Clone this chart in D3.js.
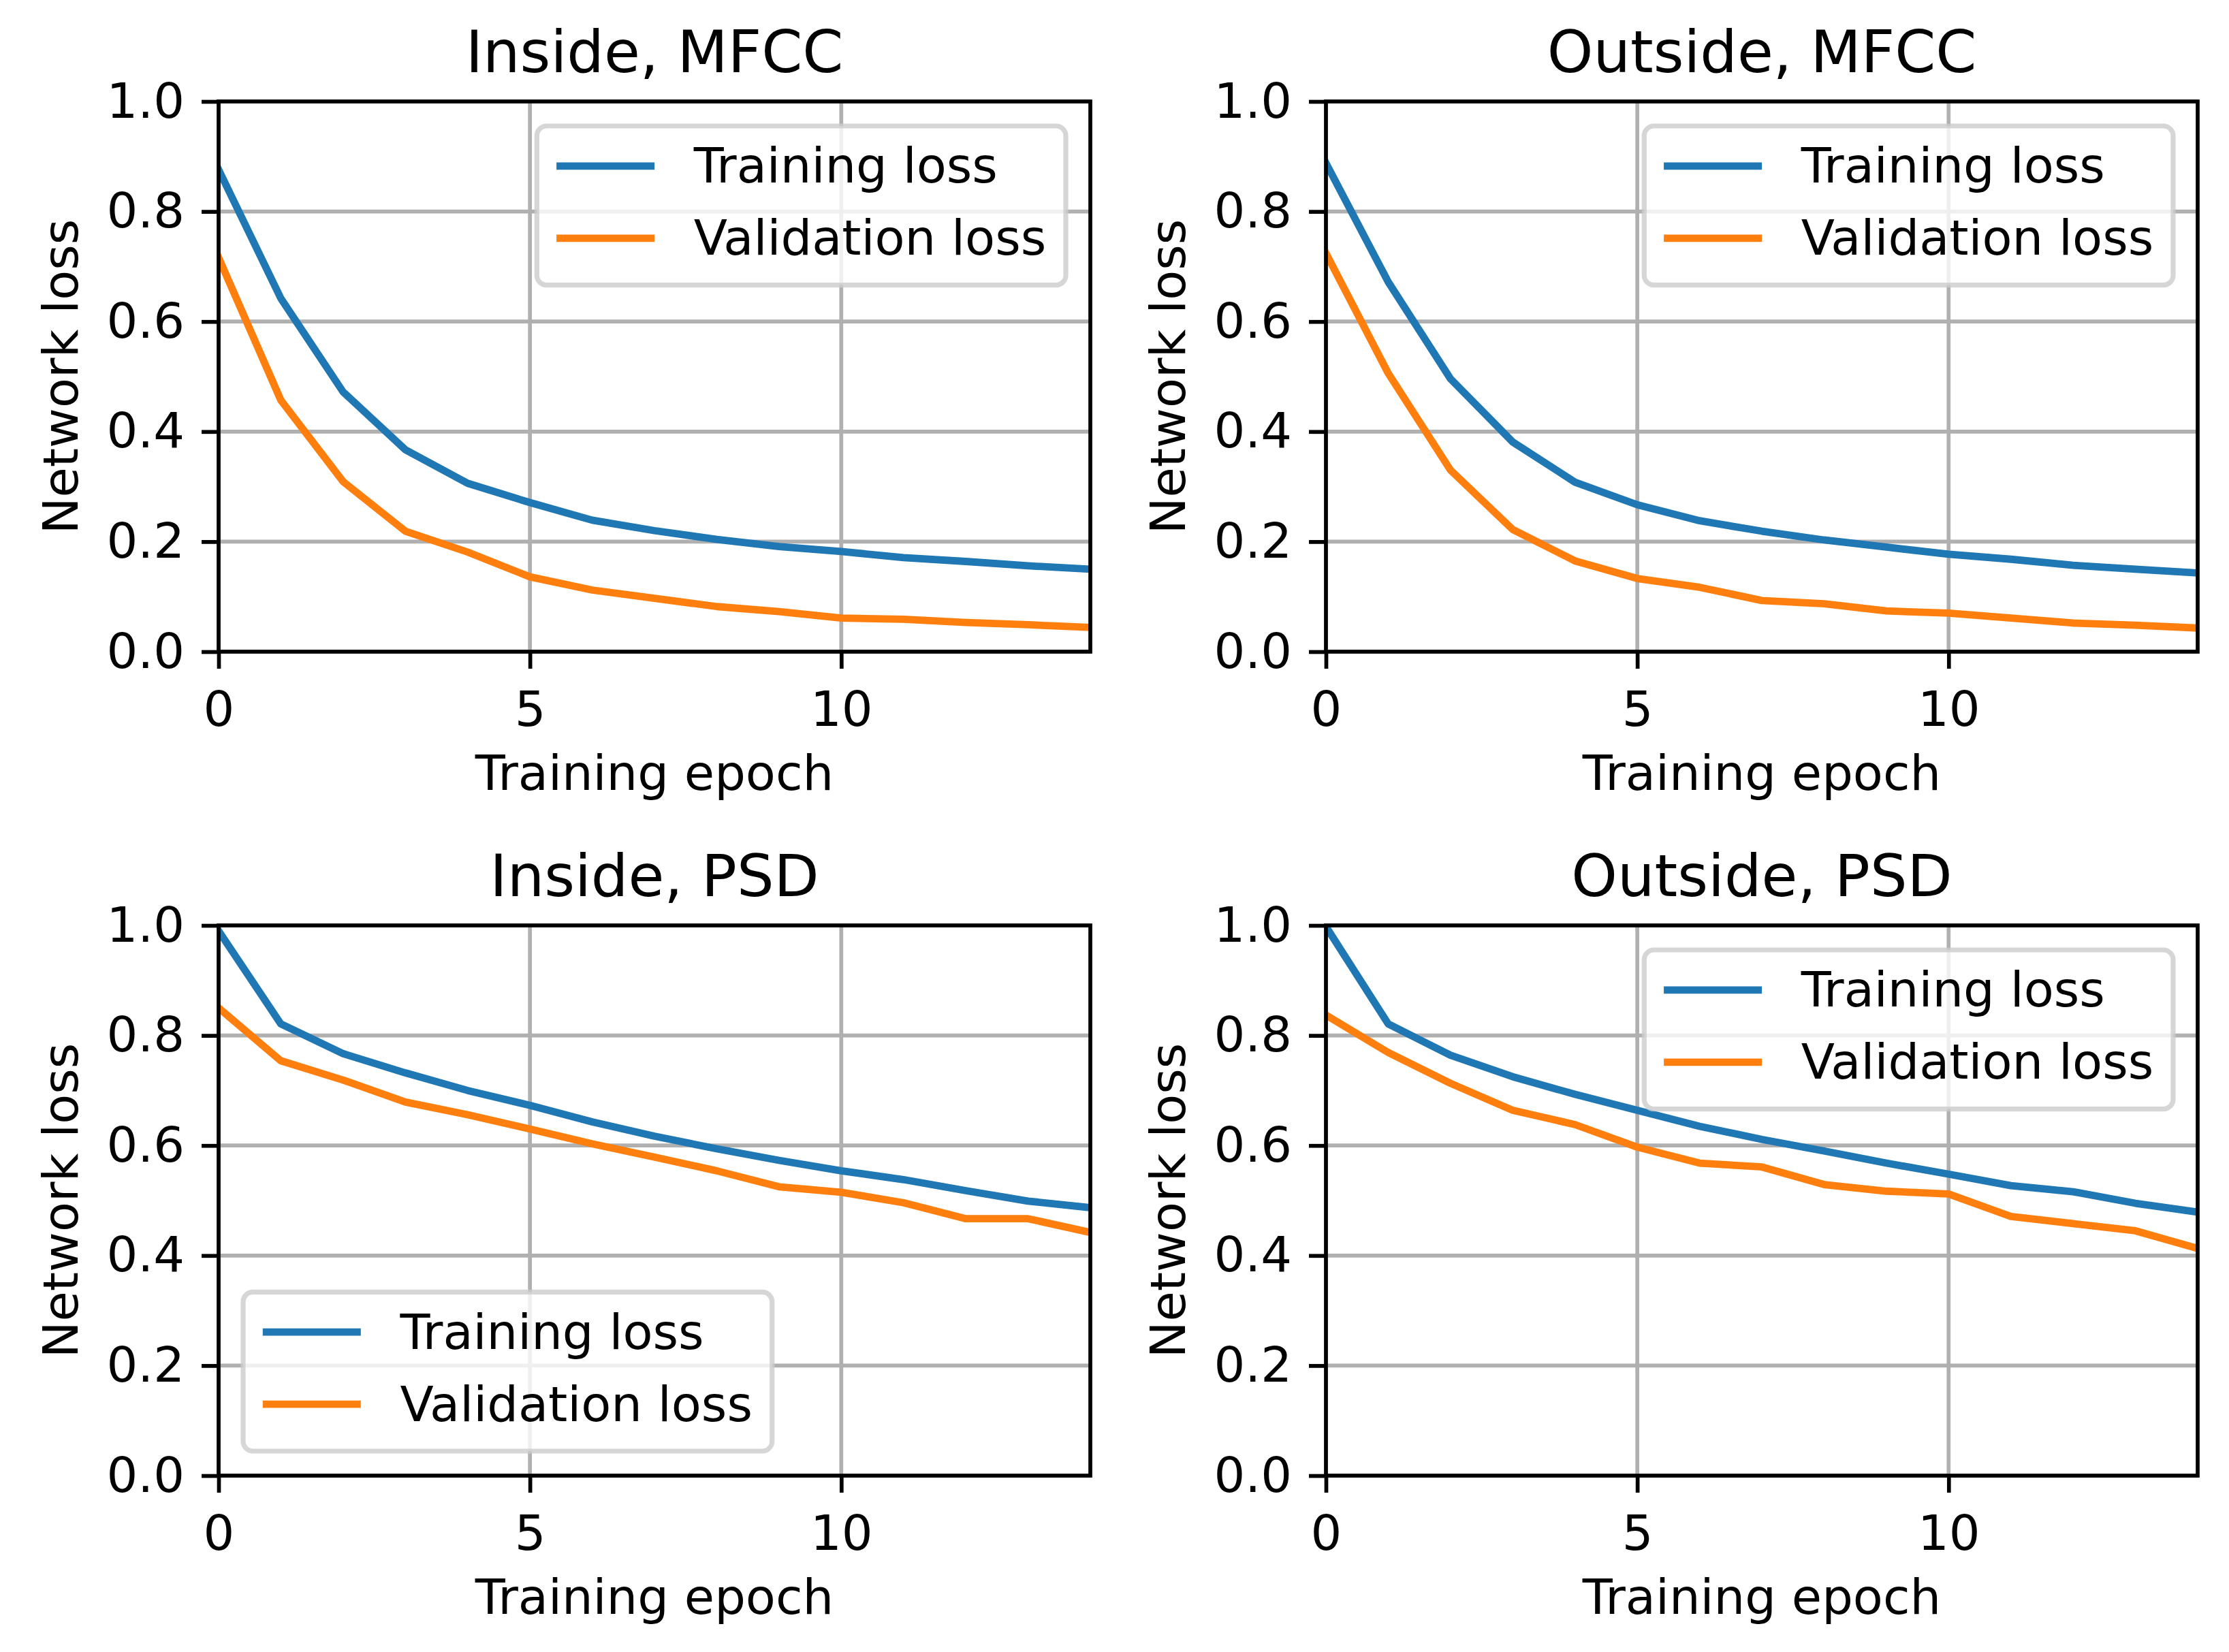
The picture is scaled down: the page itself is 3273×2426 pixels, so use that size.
<!DOCTYPE html>
<html>
<head>
<meta charset="utf-8">
<script src="https://cdn.jsdelivr.net/npm/d3@7"></script>
<style>
  body { margin: 0; background: #fff; }
  svg { display: block; font-family: "DejaVu Sans", sans-serif; }
</style>
</head>
<body>
<div id="chart"></div>
<script>
// epochs on the x axis
const epochs = [0, 1, 2, 3, 4, 5, 6, 7, 8, 9, 10, 11, 12, 13, 14];

// loss curves
const insideMfccTrain = [0.876, 0.642, 0.472, 0.367, 0.306, 0.271, 0.239, 0.220, 0.204, 0.191, 0.182, 0.171, 0.164, 0.156, 0.150];
const insideMfccVal   = [0.716, 0.457, 0.309, 0.219, 0.181, 0.136, 0.112, 0.097, 0.082, 0.073, 0.061, 0.059, 0.053, 0.049, 0.044];
const outsideMfccTrain = [0.888, 0.672, 0.496, 0.381, 0.308, 0.267, 0.238, 0.219, 0.203, 0.190, 0.177, 0.168, 0.157, 0.150, 0.143];
const outsideMfccVal   = [0.724, 0.506, 0.330, 0.222, 0.165, 0.133, 0.117, 0.093, 0.087, 0.074, 0.070, 0.061, 0.052, 0.048, 0.043];
const insidePsdTrain = [0.990, 0.821, 0.767, 0.732, 0.700, 0.673, 0.643, 0.617, 0.594, 0.573, 0.554, 0.538, 0.518, 0.499, 0.487];
const insidePsdVal   = [0.850, 0.754, 0.719, 0.679, 0.656, 0.630, 0.603, 0.579, 0.554, 0.525, 0.515, 0.496, 0.467, 0.467, 0.442];
const outsidePsdTrain = [0.998, 0.821, 0.764, 0.725, 0.693, 0.664, 0.635, 0.611, 0.590, 0.568, 0.548, 0.527, 0.516, 0.495, 0.479];
const outsidePsdVal   = [0.837, 0.769, 0.713, 0.664, 0.638, 0.597, 0.568, 0.561, 0.529, 0.517, 0.512, 0.471, 0.458, 0.445, 0.413];

const xTicks = [0, 5, 10];
const yTicks = [0.0, 0.2, 0.4, 0.6, 0.8, 1.0];
const seriesNames = ['Training loss', 'Validation loss'];
const seriesColors = ['#1f77b4', '#ff7f0e'];

const panels = [
  { title: 'Inside, MFCC', train: insideMfccTrain, val: insideMfccVal, col: 0, row: 0, legend: 'upper right' },
  { title: 'Outside, MFCC', train: outsideMfccTrain, val: outsideMfccVal, col: 1, row: 0, legend: 'upper right' },
  { title: 'Inside, PSD', train: insidePsdTrain, val: insidePsdVal, col: 0, row: 1, legend: 'lower left' },
  { title: 'Outside, PSD', train: outsidePsdTrain, val: outsidePsdVal, col: 1, row: 1, legend: 'upper right' },
];

// layout (pixels, fig rendered at ~517 dpi)
const W = 3273, H = 2426;
const fs = 72;            // 10pt
const titleFs = 86;       // 12pt
const axW = 1280, axH = 808;
const colX = [321, 1947], rowY = [149, 1359];
const thin = 5.7;         // 0.8pt
const lineW = 10.8;       // 1.5pt
const tickLen = 25;

const svg = d3.select('#chart').append('svg')
  .attr('width', W).attr('height', H)
  .attr('viewBox', `0 0 ${W} ${H}`);
svg.append('rect').attr('width', W).attr('height', H).attr('fill', '#fff');

panels.forEach((p, i) => {
  const x0 = colX[p.col], y0 = rowY[p.row];
  const g = svg.append('g').attr('transform', `translate(${x0},${y0})`);

  const x = d3.scaleLinear().domain([0, 14]).range([0, axW]);
  const y = d3.scaleLinear().domain([0, 1]).range([axH, 0]);

  const clipId = 'clip' + i;
  g.append('clipPath').attr('id', clipId)
    .append('rect').attr('width', axW).attr('height', axH);

  // grid
  g.append('g').selectAll('line').data(xTicks).join('line')
    .attr('x1', d => x(d)).attr('x2', d => x(d))
    .attr('y1', 0).attr('y2', axH)
    .attr('stroke', '#b0b0b0').attr('stroke-width', thin);
  g.append('g').selectAll('line').data(yTicks).join('line')
    .attr('x1', 0).attr('x2', axW)
    .attr('y1', d => y(d)).attr('y2', d => y(d))
    .attr('stroke', '#b0b0b0').attr('stroke-width', thin);

  // curves
  const line = d3.line().x((d, j) => x(epochs[j])).y(d => y(d));
  [p.train, p.val].forEach((vals, k) => {
    g.append('path').datum(vals)
      .attr('d', line)
      .attr('fill', 'none')
      .attr('stroke', seriesColors[k])
      .attr('stroke-width', lineW)
      .attr('stroke-linejoin', 'round')
      .attr('stroke-linecap', 'square')
      .attr('clip-path', `url(#${clipId})`);
  });

  // axes
  const xAxis = d3.axisBottom(x).tickValues(xTicks).tickSize(tickLen).tickPadding(33)
    .tickFormat(d3.format('d'));
  const yAxis = d3.axisLeft(y).tickValues(yTicks).tickSize(tickLen).tickPadding(25)
    .tickFormat(d3.format('.1f'));

  const gx = g.append('g').attr('transform', `translate(0,${axH})`).call(xAxis);
  const gy = g.append('g').call(yAxis);
  [gx, gy].forEach(a => {
    a.select('.domain').remove();
    a.selectAll('.tick line').attr('stroke', '#000').attr('stroke-width', thin);
    a.selectAll('.tick text').attr('font-size', fs).attr('fill', '#000')
      .attr('font-family', '"DejaVu Sans", sans-serif');
  });

  // spines
  g.append('rect').attr('width', axW).attr('height', axH)
    .attr('fill', 'none').attr('stroke', '#000').attr('stroke-width', thin);

  // labels
  g.append('text').text(p.title)
    .attr('x', axW / 2).attr('y', -43)
    .attr('text-anchor', 'middle').attr('font-size', titleFs);
  g.append('text').text('Training epoch')
    .attr('x', axW / 2).attr('y', axH + 203)
    .attr('text-anchor', 'middle').attr('font-size', fs);
  g.append('text').text('Network loss')
    .attr('transform', `translate(-207,${axH / 2}) rotate(-90)`)
    .attr('text-anchor', 'middle').attr('font-size', fs);

  // legend
  const pad = 0.4 * fs; // borderpad
  const handleLen = 2 * fs, handleGap = 0.8 * fs, rowH = 70, rowGap = 0.5 * fs;
  const lg = g.append('g');
  const box = lg.append('rect');
  const texts = seriesNames.map((name, k) => {
    const cy = pad + rowH / 2 - 5 + k * (rowH + rowGap);
    lg.append('line')
      .attr('x1', pad).attr('x2', pad + handleLen)
      .attr('y1', cy).attr('y2', cy)
      .attr('stroke', seriesColors[k]).attr('stroke-width', lineW);
    return lg.append('text').text(name)
      .attr('x', pad + handleLen + handleGap).attr('y', cy + 0.34 * fs)
      .attr('font-size', fs);
  });
  const textW = d3.max(texts, t => t.node().getComputedTextLength());
  const boxW = 2 * pad + handleLen + handleGap + textW;
  const boxH = 2 * pad + 2 * rowH + rowGap;
  box.attr('width', boxW).attr('height', boxH)
    .attr('rx', 0.2 * fs).attr('ry', 0.2 * fs)
    .attr('fill', '#fff').attr('fill-opacity', 0.8)
    .attr('stroke', '#cccccc').attr('stroke-opacity', 0.8)
    .attr('stroke-width', 7.2);
  const off = 0.5 * fs;
  const lx = p.legend === 'upper right' ? axW - off - boxW : off;
  const ly = p.legend === 'upper right' ? off : axH - off - boxH;
  lg.attr('transform', `translate(${lx},${ly})`);
});
</script>
</body>
</html>
